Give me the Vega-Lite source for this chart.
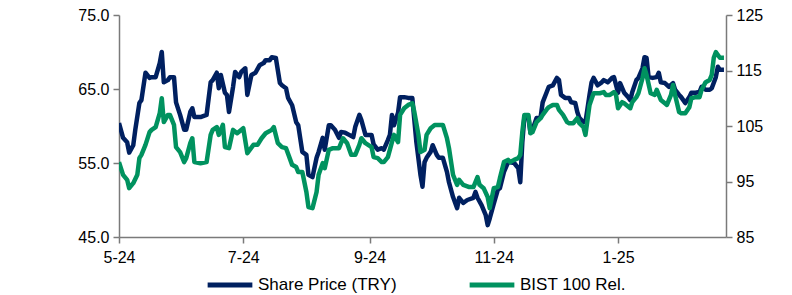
{
  "$schema": "https://vega.github.io/schema/vega-lite/v6.json",
  "width": 607,
  "height": 222,
  "autosize": {"type": "none"},
  "padding": {"left": 119, "top": 15, "right": 66, "bottom": 58},
  "background": "white",
  "datasets": {
    "share": [
      {"date": "2024-05-01", "value": 60.4}, {"date": "2024-05-03", "value": 58.4}, {"date": "2024-05-05", "value": 57.8}, {"date": "2024-05-06", "value": 56.4},
      {"date": "2024-05-08", "value": 57.4}, {"date": "2024-05-09", "value": 59.5}, {"date": "2024-05-11", "value": 63.1}, {"date": "2024-05-12", "value": 63.5},
      {"date": "2024-05-14", "value": 67.2}, {"date": "2024-05-16", "value": 66.5}, {"date": "2024-05-17", "value": 66.6}, {"date": "2024-05-19", "value": 66.6},
      {"date": "2024-05-21", "value": 68.5}, {"date": "2024-05-22", "value": 70.0}, {"date": "2024-05-23", "value": 65.9}, {"date": "2024-05-25", "value": 66.2},
      {"date": "2024-05-26", "value": 66.6}, {"date": "2024-05-28", "value": 66.6}, {"date": "2024-05-29", "value": 63.2}, {"date": "2024-05-31", "value": 61.5},
      {"date": "2024-06-02", "value": 59.5}, {"date": "2024-06-03", "value": 59.5}, {"date": "2024-06-05", "value": 61.9}, {"date": "2024-06-06", "value": 62.4},
      {"date": "2024-06-07", "value": 61.2}, {"date": "2024-06-10", "value": 61.2}, {"date": "2024-06-13", "value": 61.5}, {"date": "2024-06-15", "value": 65.9},
      {"date": "2024-06-16", "value": 66.2}, {"date": "2024-06-18", "value": 67.2}, {"date": "2024-06-19", "value": 65.1}, {"date": "2024-06-20", "value": 66.9},
      {"date": "2024-06-22", "value": 64.5}, {"date": "2024-06-23", "value": 64.2}, {"date": "2024-06-24", "value": 61.9}, {"date": "2024-06-26", "value": 65.3},
      {"date": "2024-06-27", "value": 67.3}, {"date": "2024-06-29", "value": 66.6}, {"date": "2024-06-30", "value": 67.3}, {"date": "2024-07-02", "value": 67.8},
      {"date": "2024-07-03", "value": 64.2}, {"date": "2024-07-05", "value": 66.9}, {"date": "2024-07-07", "value": 67.2}, {"date": "2024-07-09", "value": 68.2},
      {"date": "2024-07-11", "value": 68.5}, {"date": "2024-07-12", "value": 68.9}, {"date": "2024-07-14", "value": 68.9}, {"date": "2024-07-15", "value": 69.3},
      {"date": "2024-07-17", "value": 69.2}, {"date": "2024-07-19", "value": 65.8}, {"date": "2024-07-20", "value": 65.5}, {"date": "2024-07-22", "value": 65.1},
      {"date": "2024-07-23", "value": 63.8}, {"date": "2024-07-25", "value": 62.8}, {"date": "2024-07-27", "value": 60.5}, {"date": "2024-07-28", "value": 60.1},
      {"date": "2024-07-30", "value": 56.5}, {"date": "2024-08-01", "value": 56.1}, {"date": "2024-08-02", "value": 53.4}, {"date": "2024-08-04", "value": 53.1},
      {"date": "2024-08-06", "value": 55.7}, {"date": "2024-08-07", "value": 56.5}, {"date": "2024-08-09", "value": 58.4}, {"date": "2024-08-10", "value": 56.8},
      {"date": "2024-08-12", "value": 60.1}, {"date": "2024-08-13", "value": 60.1}, {"date": "2024-08-15", "value": 59.5}, {"date": "2024-08-17", "value": 58.4},
      {"date": "2024-08-18", "value": 59.2}, {"date": "2024-08-20", "value": 59.1}, {"date": "2024-08-22", "value": 58.8}, {"date": "2024-08-24", "value": 58.5},
      {"date": "2024-08-25", "value": 59.9}, {"date": "2024-08-27", "value": 61.5}, {"date": "2024-08-28", "value": 60.8}, {"date": "2024-08-30", "value": 58.8},
      {"date": "2024-09-02", "value": 58.8}, {"date": "2024-09-03", "value": 57.5}, {"date": "2024-09-05", "value": 56.8}, {"date": "2024-09-07", "value": 57.0},
      {"date": "2024-09-08", "value": 56.8}, {"date": "2024-09-10", "value": 58.1}, {"date": "2024-09-11", "value": 58.8}, {"date": "2024-09-12", "value": 61.5},
      {"date": "2024-09-13", "value": 60.1}, {"date": "2024-09-15", "value": 61.8}, {"date": "2024-09-16", "value": 63.9}, {"date": "2024-09-18", "value": 63.9},
      {"date": "2024-09-20", "value": 63.8}, {"date": "2024-09-22", "value": 63.8}, {"date": "2024-09-24", "value": 57.8}, {"date": "2024-09-26", "value": 53.4},
      {"date": "2024-09-27", "value": 51.8}, {"date": "2024-09-28", "value": 55.1}, {"date": "2024-09-29", "value": 55.7}, {"date": "2024-10-01", "value": 56.5},
      {"date": "2024-10-02", "value": 57.4}, {"date": "2024-10-04", "value": 56.1}, {"date": "2024-10-05", "value": 55.7}, {"date": "2024-10-07", "value": 55.7},
      {"date": "2024-10-09", "value": 53.8}, {"date": "2024-10-10", "value": 52.4}, {"date": "2024-10-12", "value": 50.4}, {"date": "2024-10-14", "value": 48.9},
      {"date": "2024-10-15", "value": 50.3}, {"date": "2024-10-17", "value": 49.6}, {"date": "2024-10-19", "value": 50.0}, {"date": "2024-10-22", "value": 50.3},
      {"date": "2024-10-23", "value": 51.1}, {"date": "2024-10-24", "value": 50.3}, {"date": "2024-10-26", "value": 49.3}, {"date": "2024-10-28", "value": 48.0},
      {"date": "2024-10-29", "value": 46.6}, {"date": "2024-10-30", "value": 47.5}, {"date": "2024-11-01", "value": 49.5}, {"date": "2024-11-03", "value": 51.4},
      {"date": "2024-11-04", "value": 51.6}, {"date": "2024-11-06", "value": 53.8}, {"date": "2024-11-08", "value": 55.1}, {"date": "2024-11-09", "value": 55.1},
      {"date": "2024-11-11", "value": 55.0}, {"date": "2024-11-13", "value": 54.3}, {"date": "2024-11-14", "value": 52.4}, {"date": "2024-11-15", "value": 57.8},
      {"date": "2024-11-16", "value": 61.1}, {"date": "2024-11-18", "value": 61.2}, {"date": "2024-11-19", "value": 59.1}, {"date": "2024-11-20", "value": 59.5},
      {"date": "2024-11-22", "value": 61.1}, {"date": "2024-11-24", "value": 61.2}, {"date": "2024-11-25", "value": 63.2}, {"date": "2024-11-27", "value": 64.6},
      {"date": "2024-11-28", "value": 65.3}, {"date": "2024-11-30", "value": 65.5}, {"date": "2024-12-02", "value": 66.5}, {"date": "2024-12-03", "value": 66.2},
      {"date": "2024-12-04", "value": 64.2}, {"date": "2024-12-06", "value": 63.8}, {"date": "2024-12-08", "value": 63.8}, {"date": "2024-12-09", "value": 63.2},
      {"date": "2024-12-11", "value": 63.1}, {"date": "2024-12-12", "value": 61.9}, {"date": "2024-12-13", "value": 61.1}, {"date": "2024-12-15", "value": 60.5},
      {"date": "2024-12-16", "value": 60.5}, {"date": "2024-12-18", "value": 64.2}, {"date": "2024-12-19", "value": 65.9}, {"date": "2024-12-20", "value": 66.5},
      {"date": "2024-12-22", "value": 65.5}, {"date": "2024-12-24", "value": 65.9}, {"date": "2024-12-25", "value": 66.2}, {"date": "2024-12-27", "value": 65.9},
      {"date": "2024-12-29", "value": 66.5}, {"date": "2024-12-30", "value": 66.6}, {"date": "2025-01-01", "value": 64.5}, {"date": "2025-01-02", "value": 65.8},
      {"date": "2025-01-04", "value": 64.5}, {"date": "2025-01-06", "value": 63.9}, {"date": "2025-01-07", "value": 63.5}, {"date": "2025-01-08", "value": 64.6},
      {"date": "2025-01-10", "value": 66.2}, {"date": "2025-01-11", "value": 66.5}, {"date": "2025-01-13", "value": 67.8}, {"date": "2025-01-14", "value": 69.3},
      {"date": "2025-01-15", "value": 69.2}, {"date": "2025-01-16", "value": 66.6}, {"date": "2025-01-18", "value": 66.5}, {"date": "2025-01-20", "value": 66.6},
      {"date": "2025-01-21", "value": 67.2}, {"date": "2025-01-22", "value": 65.9}, {"date": "2025-01-24", "value": 65.8}, {"date": "2025-01-26", "value": 65.3},
      {"date": "2025-01-28", "value": 65.8}, {"date": "2025-01-29", "value": 64.9}, {"date": "2025-01-31", "value": 64.2}, {"date": "2025-02-01", "value": 63.9},
      {"date": "2025-02-03", "value": 63.1}, {"date": "2025-02-05", "value": 63.9}, {"date": "2025-02-06", "value": 64.5}, {"date": "2025-02-08", "value": 64.5},
      {"date": "2025-02-10", "value": 64.6}, {"date": "2025-02-11", "value": 65.3}, {"date": "2025-02-13", "value": 64.9}, {"date": "2025-02-15", "value": 64.9},
      {"date": "2025-02-16", "value": 65.1}, {"date": "2025-02-18", "value": 66.6}, {"date": "2025-02-19", "value": 68.0}, {"date": "2025-02-20", "value": 67.6},
      {"date": "2025-02-22", "value": 67.6}
    ],
    "bist": [
      {"date": "2024-05-01", "value": 98.5}, {"date": "2024-05-03", "value": 96.2}, {"date": "2024-05-05", "value": 95.3}, {"date": "2024-05-06", "value": 93.8},
      {"date": "2024-05-08", "value": 94.7}, {"date": "2024-05-10", "value": 96.2}, {"date": "2024-05-11", "value": 99.2}, {"date": "2024-05-12", "value": 99.8},
      {"date": "2024-05-14", "value": 101.6}, {"date": "2024-05-16", "value": 103.9}, {"date": "2024-05-17", "value": 104.3}, {"date": "2024-05-19", "value": 104.8},
      {"date": "2024-05-21", "value": 107.3}, {"date": "2024-05-22", "value": 110.0}, {"date": "2024-05-23", "value": 105.7}, {"date": "2024-05-25", "value": 107.0},
      {"date": "2024-05-26", "value": 107.0}, {"date": "2024-05-28", "value": 105.2}, {"date": "2024-05-29", "value": 101.2}, {"date": "2024-05-31", "value": 100.3},
      {"date": "2024-06-02", "value": 98.5}, {"date": "2024-06-03", "value": 99.2}, {"date": "2024-06-05", "value": 101.9}, {"date": "2024-06-06", "value": 102.8},
      {"date": "2024-06-07", "value": 98.5}, {"date": "2024-06-10", "value": 98.3}, {"date": "2024-06-13", "value": 98.5}, {"date": "2024-06-15", "value": 103.4},
      {"date": "2024-06-16", "value": 104.3}, {"date": "2024-06-18", "value": 104.8}, {"date": "2024-06-19", "value": 103.4}, {"date": "2024-06-21", "value": 105.2},
      {"date": "2024-06-22", "value": 101.2}, {"date": "2024-06-24", "value": 101.0}, {"date": "2024-06-26", "value": 104.3}, {"date": "2024-06-28", "value": 103.7},
      {"date": "2024-07-01", "value": 104.6}, {"date": "2024-07-03", "value": 100.1}, {"date": "2024-07-06", "value": 101.6}, {"date": "2024-07-08", "value": 101.6},
      {"date": "2024-07-10", "value": 102.8}, {"date": "2024-07-12", "value": 103.7}, {"date": "2024-07-15", "value": 104.3}, {"date": "2024-07-16", "value": 104.8},
      {"date": "2024-07-18", "value": 101.9}, {"date": "2024-07-20", "value": 101.2}, {"date": "2024-07-22", "value": 101.0}, {"date": "2024-07-23", "value": 100.0},
      {"date": "2024-07-25", "value": 98.0}, {"date": "2024-07-27", "value": 97.6}, {"date": "2024-07-28", "value": 96.7}, {"date": "2024-07-30", "value": 96.7},
      {"date": "2024-08-01", "value": 93.1}, {"date": "2024-08-02", "value": 90.4}, {"date": "2024-08-04", "value": 90.2}, {"date": "2024-08-06", "value": 93.1},
      {"date": "2024-08-07", "value": 96.2}, {"date": "2024-08-09", "value": 98.3}, {"date": "2024-08-10", "value": 97.4}, {"date": "2024-08-12", "value": 100.7},
      {"date": "2024-08-14", "value": 101.0}, {"date": "2024-08-17", "value": 101.0}, {"date": "2024-08-19", "value": 102.8}, {"date": "2024-08-21", "value": 101.9},
      {"date": "2024-08-23", "value": 99.8}, {"date": "2024-08-25", "value": 99.8}, {"date": "2024-08-27", "value": 101.6}, {"date": "2024-08-28", "value": 102.8},
      {"date": "2024-08-30", "value": 101.9}, {"date": "2024-09-02", "value": 101.2}, {"date": "2024-09-03", "value": 99.4}, {"date": "2024-09-05", "value": 99.2},
      {"date": "2024-09-07", "value": 98.5}, {"date": "2024-09-08", "value": 98.5}, {"date": "2024-09-10", "value": 99.4}, {"date": "2024-09-12", "value": 102.1},
      {"date": "2024-09-13", "value": 103.4}, {"date": "2024-09-15", "value": 102.1}, {"date": "2024-09-16", "value": 107.0}, {"date": "2024-09-18", "value": 108.2},
      {"date": "2024-09-20", "value": 108.8}, {"date": "2024-09-22", "value": 109.1}, {"date": "2024-09-23", "value": 107.5}, {"date": "2024-09-25", "value": 103.4},
      {"date": "2024-09-26", "value": 100.3}, {"date": "2024-09-28", "value": 100.7}, {"date": "2024-09-29", "value": 103.4}, {"date": "2024-10-01", "value": 104.6},
      {"date": "2024-10-03", "value": 105.2}, {"date": "2024-10-05", "value": 105.2}, {"date": "2024-10-07", "value": 105.2}, {"date": "2024-10-09", "value": 102.8},
      {"date": "2024-10-10", "value": 101.0}, {"date": "2024-10-12", "value": 96.2}, {"date": "2024-10-14", "value": 94.4}, {"date": "2024-10-15", "value": 95.3},
      {"date": "2024-10-17", "value": 94.4}, {"date": "2024-10-20", "value": 94.0}, {"date": "2024-10-22", "value": 94.0}, {"date": "2024-10-24", "value": 95.8},
      {"date": "2024-10-25", "value": 94.4}, {"date": "2024-10-27", "value": 93.8}, {"date": "2024-10-29", "value": 92.2}, {"date": "2024-10-30", "value": 90.2},
      {"date": "2024-11-01", "value": 93.8}, {"date": "2024-11-03", "value": 94.0}, {"date": "2024-11-04", "value": 95.6}, {"date": "2024-11-06", "value": 98.5},
      {"date": "2024-11-08", "value": 98.9}, {"date": "2024-11-09", "value": 98.5}, {"date": "2024-11-11", "value": 98.9}, {"date": "2024-11-13", "value": 99.2},
      {"date": "2024-11-14", "value": 99.8}, {"date": "2024-11-15", "value": 103.9}, {"date": "2024-11-16", "value": 107.0}, {"date": "2024-11-18", "value": 107.0},
      {"date": "2024-11-19", "value": 103.7}, {"date": "2024-11-20", "value": 103.9}, {"date": "2024-11-22", "value": 105.7}, {"date": "2024-11-24", "value": 106.4},
      {"date": "2024-11-25", "value": 107.0}, {"date": "2024-11-27", "value": 108.0}, {"date": "2024-11-28", "value": 108.4}, {"date": "2024-11-30", "value": 108.8},
      {"date": "2024-12-02", "value": 108.8}, {"date": "2024-12-03", "value": 107.9}, {"date": "2024-12-05", "value": 107.0}, {"date": "2024-12-07", "value": 105.7},
      {"date": "2024-12-08", "value": 105.5}, {"date": "2024-12-10", "value": 105.5}, {"date": "2024-12-12", "value": 106.4}, {"date": "2024-12-13", "value": 105.5},
      {"date": "2024-12-15", "value": 104.8}, {"date": "2024-12-16", "value": 103.4}, {"date": "2024-12-18", "value": 108.8}, {"date": "2024-12-20", "value": 110.9},
      {"date": "2024-12-21", "value": 110.9}, {"date": "2024-12-23", "value": 110.9}, {"date": "2024-12-25", "value": 111.1}, {"date": "2024-12-26", "value": 110.6},
      {"date": "2024-12-28", "value": 110.6}, {"date": "2024-12-30", "value": 111.1}, {"date": "2024-12-31", "value": 110.6}, {"date": "2025-01-01", "value": 108.2},
      {"date": "2025-01-03", "value": 109.3}, {"date": "2025-01-04", "value": 109.1}, {"date": "2025-01-07", "value": 108.2}, {"date": "2025-01-08", "value": 109.3},
      {"date": "2025-01-10", "value": 110.2}, {"date": "2025-01-11", "value": 110.9}, {"date": "2025-01-13", "value": 113.6}, {"date": "2025-01-14", "value": 115.4},
      {"date": "2025-01-15", "value": 114.2}, {"date": "2025-01-17", "value": 110.9}, {"date": "2025-01-19", "value": 110.6}, {"date": "2025-01-20", "value": 111.5},
      {"date": "2025-01-22", "value": 109.7}, {"date": "2025-01-24", "value": 109.1}, {"date": "2025-01-25", "value": 108.8}, {"date": "2025-01-27", "value": 110.6},
      {"date": "2025-01-28", "value": 112.4}, {"date": "2025-01-29", "value": 110.6}, {"date": "2025-01-31", "value": 107.5}, {"date": "2025-02-01", "value": 107.3},
      {"date": "2025-02-03", "value": 107.3}, {"date": "2025-02-05", "value": 108.4}, {"date": "2025-02-06", "value": 110.0}, {"date": "2025-02-08", "value": 110.2},
      {"date": "2025-02-10", "value": 110.2}, {"date": "2025-02-11", "value": 111.5}, {"date": "2025-02-13", "value": 112.9}, {"date": "2025-02-15", "value": 113.3},
      {"date": "2025-02-16", "value": 114.2}, {"date": "2025-02-17", "value": 117.3}, {"date": "2025-02-18", "value": 118.3}, {"date": "2025-02-20", "value": 117.3},
      {"date": "2025-02-22", "value": 117.3}
    ]
  },
  "encoding": {
    "x": {
      "field": "date",
      "type": "temporal",
      "scale": {
        "type": "utc",
        "domain": [
          {"year": 2024, "month": 5, "date": 1, "utc": true},
          {"year": 2025, "month": 2, "date": 23, "utc": true}
        ]
      },
      "axis": {
        "title": null,
        "format": "%-m-%y",
        "values": [
          {"year": 2024, "month": 5, "date": 1, "utc": true},
          {"year": 2024, "month": 7, "date": 1, "utc": true},
          {"year": 2024, "month": 9, "date": 1, "utc": true},
          {"year": 2024, "month": 11, "date": 1, "utc": true},
          {"year": 2025, "month": 1, "date": 1, "utc": true}
        ],
        "tickSize": 6,
        "labelPadding": 6,
        "labelFlush": false,
        "labelOverlap": false
      }
    }
  },
  "layer": [
    {
      "data": {"name": "share"},
      "mark": {"type": "line", "strokeWidth": 4.5, "strokeJoin": "round", "clip": true},
      "encoding": {
        "y": {
          "field": "value",
          "type": "quantitative",
          "scale": {"domain": [45, 75], "nice": false, "zero": false},
          "axis": {"title": null, "orient": "left", "values": [45, 55, 65, 75], "format": ".1f", "tickSize": 6, "labelPadding": 4}
        },
        "color": {
          "datum": "Share Price (TRY)",
          "type": "nominal",
          "scale": {"domain": ["Share Price (TRY)", "BIST 100 Rel."], "range": ["#002060", "#00925F"]},
          "legend": {
            "title": null,
            "orient": "none",
            "legendX": 86,
            "legendY": 245,
            "direction": "horizontal",
            "symbolType": "stroke",
            "symbolStrokeWidth": 5,
            "symbolSize": 2000,
            "labelFontSize": 17,
            "labelFont": "Liberation Sans",
            "labelColor": "#000000",
            "labelOffset": 3,
            "columnPadding": 62
          }
        }
      }
    },
    {
      "data": {"name": "bist"},
      "mark": {"type": "line", "strokeWidth": 4.5, "strokeJoin": "round", "clip": true},
      "encoding": {
        "y": {
          "field": "value",
          "type": "quantitative",
          "scale": {"domain": [85, 125], "nice": false, "zero": false},
          "axis": {"title": null, "orient": "right", "values": [85, 95, 105, 115, 125], "format": "d", "tickSize": 6, "labelPadding": 4}
        },
        "color": {"datum": "BIST 100 Rel.", "type": "nominal"}
      }
    }
  ],
  "resolve": {"scale": {"y": "independent"}},
  "config": {
    "view": {"stroke": null},
    "axis": {
      "grid": false,
      "labelFont": "Liberation Sans",
      "labelFontSize": 16,
      "labelColor": "#000000",
      "domainColor": "#7a7a7a",
      "tickColor": "#7a7a7a",
      "domainWidth": 1.5,
      "tickWidth": 1.5
    }
  }
}
